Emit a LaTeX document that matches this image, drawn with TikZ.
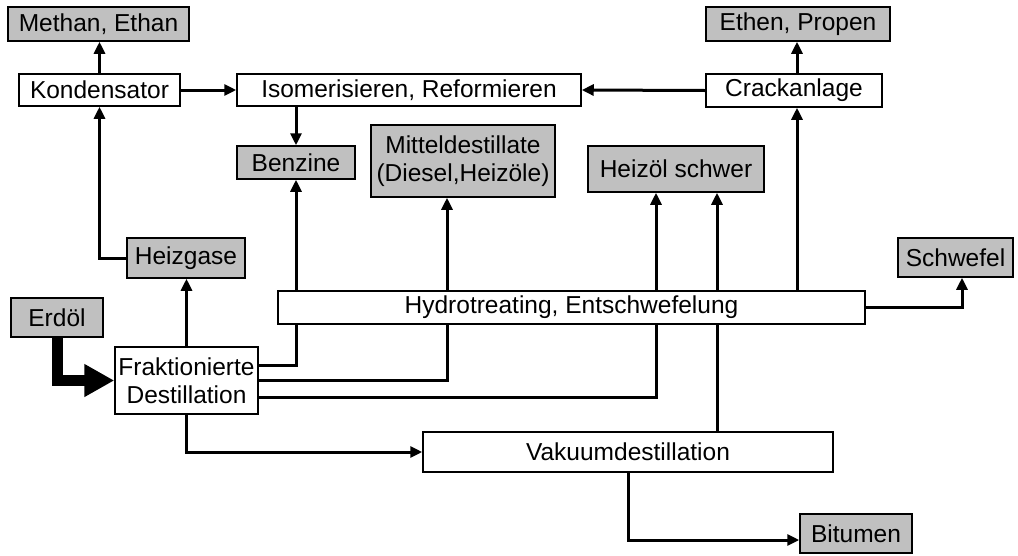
\documentclass[tikz,border=0pt]{standalone}
\usepackage{fontspec}
\setmainfont{Liberation Sans}
\usetikzlibrary{arrows.meta,backgrounds}
\definecolor{boxgray}{RGB}{192,192,192}
\begin{document}
\begin{tikzpicture}[x=1pt,y=-1pt,
  box/.style={draw,line width=1.5pt,fill=white,inner sep=0pt,align=center,
    font=\fontsize{24.5}{28.5}\selectfont},
  prod/.style={box,fill=boxgray},
  arr/.style={line width=3pt,-{Triangle[length=12pt,width=11pt]}},
  feed/.style={line width=11pt,line join=miter,-{Triangle[length=30pt,width=31pt]}}
  ]
\useasboundingbox (0,0) rectangle (1018,555);
% nodes
\node[prod,minimum width=181pt,minimum height=34pt] (methan) at (98.5,24) {Methan, Ethan};
\node[box,minimum width=161pt,minimum height=32pt] (kond) at (99.5,90) {Kondensator};
\node[box,minimum width=344pt,minimum height=32pt] (isom) at (409,90) {Isomerisieren, Reformieren};
\node[box,minimum width=176pt,minimum height=33pt] (crack) at (794,90.5) {Crackanlage};
\node[prod,minimum width=184pt,minimum height=34pt] (ethen) at (798,24) {Ethen, Propen};
\node[prod,minimum width=118pt,minimum height=33pt] (benz) at (296,162.5) {Benzine};
\node[prod,minimum width=184pt,minimum height=72pt] (mittel) at (463,161) {Mitteldestillate\\(Diesel,Heizöle)};
\node[prod,minimum width=176pt,minimum height=46pt] (heizoel) at (676,169) {Heizöl schwer};
\node[prod,minimum width=118pt,minimum height=40pt] (heizgase) at (186,258) {Heizgase};
\node[prod,minimum width=115pt,minimum height=39pt] (schwefel) at (955.5,257.5) {Schwefel};
\node[prod,minimum width=92pt,minimum height=39pt] (erdoel) at (57,317.5) {Erdöl};
\node[box,minimum width=143pt,minimum height=67pt] (frakt) at (186.5,380.5) {Fraktionierte\\Destillation};
\node[box,minimum width=587pt,minimum height=33pt] (hydro) at (571.5,307.5) {Hydrotreating, Entschwefelung};
\node[box,minimum width=410pt,minimum height=40pt] (vakuum) at (628,452) {Vakuumdestillation};
\node[prod,minimum width=112pt,minimum height=39pt] (bitumen) at (856,533.5) {Bitumen};
% helper coordinates
\coordinate (y1) at (0,365);
\coordinate (y2) at (0,380);
\coordinate (y3) at (0,397);
\coordinate (yb) at (0,540);
\coordinate (xm) at (447,0);
\coordinate (xh1) at (656,0);
\coordinate (xh2) at (717,0);
\coordinate (xs) at (962,0);
\coordinate (xc) at (797,0);
% connectors
\begin{scope}[on background layer]
\draw[arr] (kond.north) -- (kond.north |- methan.south);
\draw[arr] (kond.east) -- (isom.west);
\draw[arr] (crack.west) -- (isom.east);
\draw[arr] (benz.north |- isom.south) -- (benz.north);
\draw[arr] (crack.north -| xc) -- (ethen.south -| xc);
\draw[arr] (hydro.north -| xc) -- (crack.south -| xc);
\draw[arr] (heizgase.west) -| (kond.south);
\draw[arr] (frakt.north) -- (frakt.north |- heizgase.south);
\draw[arr] (frakt.east |- y1) -| (benz.south);
\draw[arr] (frakt.east |- y2) -| (mittel.south -| xm);
\draw[arr] (frakt.east |- y3) -| (heizoel.south -| xh1);
\draw[arr] (vakuum.north -| xh2) -- (heizoel.south -| xh2);
\draw[arr] (frakt.south) |- (vakuum.west);
\draw[arr] (vakuum.south) |- (bitumen.west |- yb);
\draw[arr] (hydro.east) -| (schwefel.south -| xs);
\draw[feed] (erdoel.south) |- (frakt.west);
\end{scope}
\end{tikzpicture}
\end{document}
